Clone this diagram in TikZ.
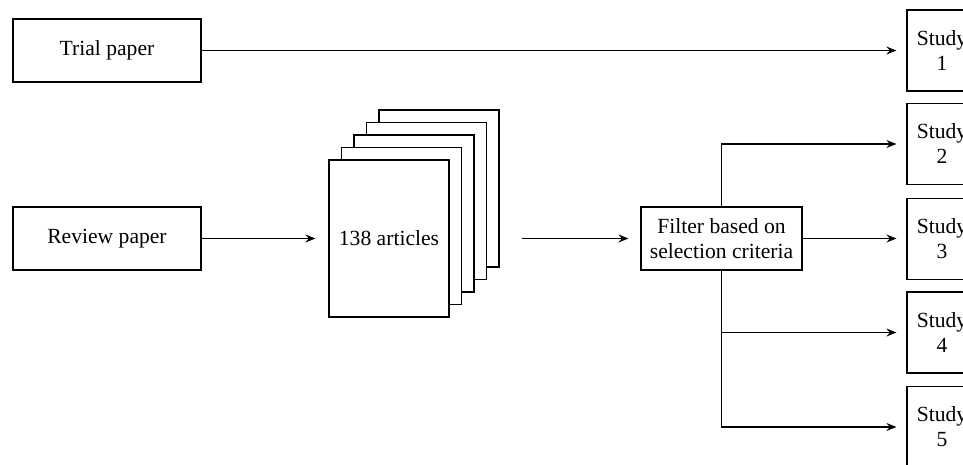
\documentclass[tikz,border=0pt]{standalone}
\usepackage{fontspec}
\setmainfont{Liberation Serif}
\usetikzlibrary{arrows.meta,positioning}
\begin{document}
\begin{tikzpicture}[x=1pt,y=-1pt,
  every node/.style={font=\fontsize{21.6}{25}\selectfont},
  box/.style={draw, line width=1.2pt, fill=white, inner sep=0pt, align=center},
  paperbox/.style={box, minimum width=188pt, minimum height=63pt},
  studybox/.style={box, minimum width=70pt, minimum height=81pt},
  pagebox/.style={box, minimum width=120pt, minimum height=157pt},
  arr/.style={line width=1.5pt, -{Stealth[length=10pt,width=8pt,inset=3.5pt]}}
]
\useasboundingbox (0,0) rectangle (963,464);

\node[paperbox] (trial) at (107,50.5) {Trial paper};
\node[paperbox] (review) at (107,238.5) {Review paper};

% stack of articles
\node[pagebox] (p5) at (439,188.5) {};
\node[pagebox] (p4) at (426.5,201) {};
\node[pagebox] (p3) at (414,213.5) {};
\node[pagebox] (p2) at (401.5,226) {};
\node[pagebox] (p1) at (389,238.5) {138 articles};
\coordinate (stackout) at (522,238.5);

\node[box, minimum width=161pt, minimum height=63pt] (filter) at (721.5,238.5) {Filter based on\\selection criteria};

\node[studybox] (s1) at (942,50.5) {Study\\1};
\node[studybox] (s2) at (942,144) {Study\\2};
\node[studybox] (s3) at (942,239) {Study\\3};
\node[studybox] (s4) at (942,332.5) {Study\\4};
\node[studybox] (s5) at (942,427) {Study\\5};

\draw[arr, shorten >=10pt] (trial.east) -- (trial.east -| s1.west);
\draw[arr, shorten >=13pt] (review.east) -- (p1.west);
\draw[arr, shorten >=12pt] (stackout) -- (filter.west);
\draw[arr, shorten >=10pt] (filter.north) |- (s2.west);
\draw[arr, shorten >=10pt] (filter.east) -- (filter.east -| s3.west);
\draw[arr, shorten >=10pt] (filter.south) |- (s4.west);
\draw[arr, shorten >=10pt] (filter.south) |- (s5.west);
\end{tikzpicture}
\end{document}
